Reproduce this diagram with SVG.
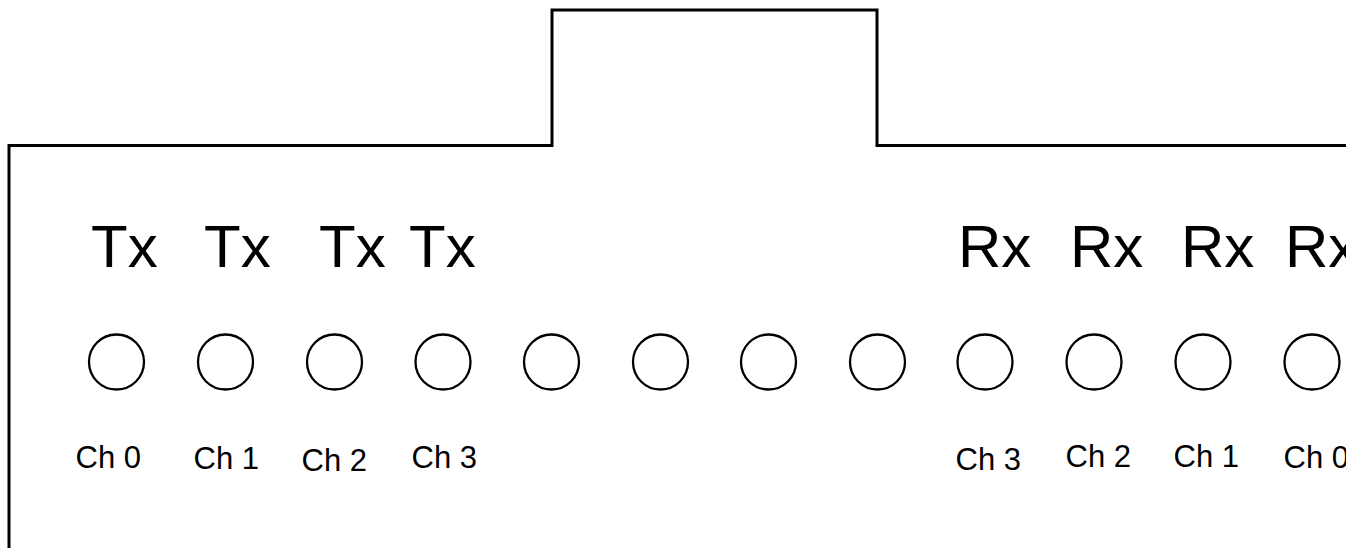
<svg xmlns="http://www.w3.org/2000/svg" width="1346" height="548" viewBox="0 0 1346 548">
<style>
.outline{fill:none;stroke:#000;stroke-width:3}
.port{fill:#fff;stroke:#000;stroke-width:2.3}
.big{font-family:"Liberation Sans",Arial,sans-serif;font-size:60px;fill:#000}
.ch{font-family:"Liberation Sans",Arial,sans-serif;font-size:31px;fill:#000}
</style>
<rect width="1346" height="548" fill="#fff"/>
<g id="housing">
<path class="outline" d="M9,548 V145.5 H552 V10 H877 V145.5 H1346"/>
</g>
<g id="connectors"></g>
<g id="tx-labels">
<text class="big" x="91" y="267">Tx</text>
<text class="big" x="204" y="267">Tx</text>
<text class="big" x="319" y="267">Tx</text>
<text class="big" x="409" y="267">Tx</text>
</g>
<g id="rx-labels">
<text class="big" x="958" y="267">Rx</text>
<text class="big" x="1070" y="267">Rx</text>
<text class="big" x="1181" y="267">Rx</text>
<text class="big" x="1285" y="267">Rx</text>
</g>
<g id="port0"><circle class="port" cx="116.5" cy="362" r="27.5"/></g>
<g id="port1"><circle class="port" cx="225.5" cy="362" r="27.5"/></g>
<g id="port2"><circle class="port" cx="334.5" cy="362" r="27.5"/></g>
<g id="port3"><circle class="port" cx="443" cy="362" r="27.5"/></g>
<g id="port4"><circle class="port" cx="551.5" cy="362" r="27.5"/></g>
<g id="port5"><circle class="port" cx="660.5" cy="362" r="27.5"/></g>
<g id="port6"><circle class="port" cx="768.5" cy="362" r="27.5"/></g>
<g id="port7"><circle class="port" cx="877.5" cy="362" r="27.5"/></g>
<g id="port8"><circle class="port" cx="985" cy="362" r="27.5"/></g>
<g id="port9"><circle class="port" cx="1094" cy="362" r="27.5"/></g>
<g id="port10"><circle class="port" cx="1203" cy="362" r="27.5"/></g>
<g id="port11"><circle class="port" cx="1312" cy="362" r="27.5"/></g>
<g id="tx-channels">
<text class="ch" x="75.5" y="468">Ch 0</text>
<text class="ch" x="193.5" y="469">Ch 1</text>
<text class="ch" x="301.5" y="471">Ch 2</text>
<text class="ch" x="411.5" y="468">Ch 3</text>
</g>
<g id="rx-channels">
<text class="ch" x="955.5" y="470">Ch 3</text>
<text class="ch" x="1065.5" y="467">Ch 2</text>
<text class="ch" x="1173.5" y="467">Ch 1</text>
<text class="ch" x="1283.5" y="468">Ch 0</text>
</g>
</svg>
